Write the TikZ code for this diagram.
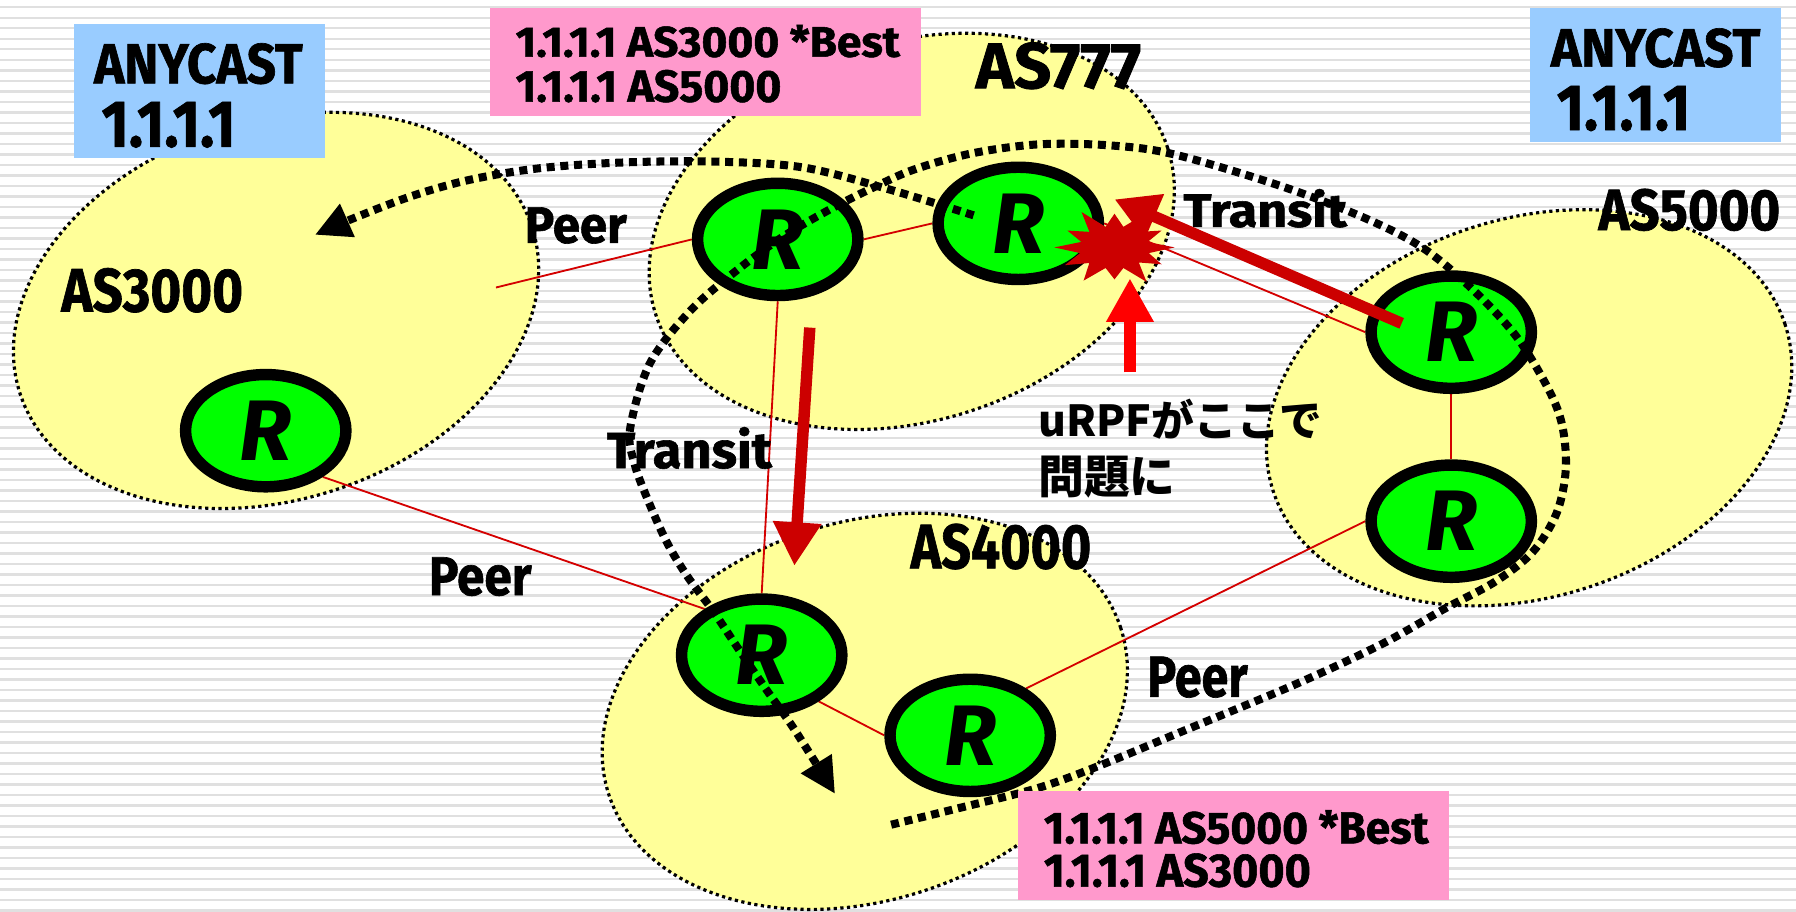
\documentclass[tikz,border=0pt]{standalone}
\usepackage{fontspec}
\usepackage{graphicx}
\setmainfont{Fira Sans}[BoldFeatures={FakeBold=1.2}]
\newfontfamily\jpfont{Noto Sans CJK JP}
\usetikzlibrary{arrows.meta,shapes.geometric}

\definecolor{bgline}{HTML}{E0E0E0}
\definecolor{asfill}{HTML}{FFFF99}
\definecolor{rtfill}{HTML}{00FF00}
\definecolor{boxblue}{HTML}{99CCFF}
\definecolor{boxpink}{HTML}{FF99CC}
\definecolor{darkred}{HTML}{CC0000}
\definecolor{linkred}{HTML}{D40000}
\definecolor{alertred}{HTML}{FF0000}

% text squeezed to a given ink width and cap height
\newcommand\fitlabel[3]{\resizebox{#1pt}{#2pt}{\bfseries #3}}

\tikzset{
  asarea/.style={ellipse, fill=asfill, draw=black, line width=2.8pt,
    dash pattern=on 2.8pt off 3pt, minimum width=470pt, minimum height=330pt,
    inner sep=0pt, rotate=18},
  router/.style={ellipse, draw=black, fill=rtfill, line width=10pt,
    minimum width=140pt, minimum height=98pt, inner sep=0pt,
    font=\fontsize{75}{75}\selectfont\bfseries\itshape},
  routerslot/.style={router, draw=none, fill=none},
  link/.style={draw=linkred, line width=1.6pt},
  route/.style={draw=black, line width=7pt, dash pattern=on 7pt off 5pt,
    -{Triangle[width=30pt,length=31pt]}},
  bigarrow/.style={draw=darkred, line width=10pt, -{Triangle[width=40pt,length=38pt]}},
  alertarrow/.style={draw=alertred, line width=10pt, -{Triangle[width=39pt,length=38pt]}},
  infobox/.style={rectangle, anchor=north west, inner sep=0pt, draw=none},
  lbl/.style={anchor=base west, inner sep=0pt},
}

\begin{document}
\begin{tikzpicture}[x=1pt,y=-1pt]
\useasboundingbox (0,0) rectangle (1568,796);
\fill[white] (0,0) rectangle (1568,796);

% striped background
\foreach \i in {0,...,86}
  \draw[bgline, line width=2pt] (0,{6.4+9.17*\i}) -- (1568,{6.4+9.17*\i});

% autonomous systems
\node[asarea] (as3000) at (241,271) {};
\node[asarea] (as777)  at (796,202) {};
\node[asarea] (as5000) at (1335,356) {};
\node[asarea] (as4000) at (755,621) {};

% router positions, so that the links can end on their borders
\foreach \n/\p in {r1/{(679,209)},r2/{(889,195)},r3/{(232,376)},r4/{(1267,290)},
                   r5/{(1267,455)},r6/{(665,572)},r7/{(847,642)}}
  \node[routerslot] (\n) at \p {};

% links between routers
\coordinate (p3000) at (433,251);
\draw[link] (p3000) -- (r1.west);
\draw[link] (r1.east) -- (r2.west);
\draw[link] (r1.south) -- (r6.north);
\draw[link] (r3.-39) -- (r6.141);
\draw[link] (r2.east) -- (r4.west);
\draw[link] (r4.south) -- (r5.north);
\draw[link] (r5.west) -- (r7.40);
\draw[link] (r6.-39) -- (r7.west);

% routers
\foreach \n in {r1,r2,r3,r4,r5,r6,r7}
  \node[router] (\n body) at (\n) {R};

% AS names and relation labels
\node[lbl] (t3000) at (53.4,272)   {\fitlabel{158.6}{38}{AS3000}};
\node[lbl] (t777)  at (851.7,77)   {\fitlabel{144.3}{40}{AS777}};
\node[lbl] (t5000) at (1395.4,200.8) {\fitlabel{158.6}{36}{AS5000}};
\node[lbl] (t4000) at (794.8,496.2) {\fitlabel{157.7}{39}{AS4000}};
\node[lbl] (peer1) at (458,212)    {\fitlabel{89}{31}{Peer}};
\node[lbl] (peer2) at (374.2,519.5) {\fitlabel{89.7}{33}{Peer}};
\node[lbl] (peer3) at (1001.4,608.3) {\fitlabel{87.7}{35}{Peer}};
\node[lbl] (tran1) at (1033,198)   {\fitlabel{142.7}{33}{Transit}};
\node[lbl] (tran2) at (529.7,408.6) {\fitlabel{144}{35.8}{Transit}};
\node[lbl] (urpf1) at (906.3,381)  {\resizebox{248pt}{!}{\jpfont\bfseries uRPFがここで}};
\node[lbl] (urpf2) at (906.3,431)  {\resizebox{120pt}{!}{\jpfont\bfseries 問題に}};

% preferred-path arrows
\coordinate (d0) at (707,286);
\coordinate (d1) at (693.5,494);
\draw[bigarrow] (d0) -- (d1);
\coordinate (e0) at (1223.7,282.3);
\coordinate (e1) at (973,174);
\draw[bigarrow] (e0) -- (e1);

% uRPF drop point: an uneven burst of spikes
\coordinate (burst) at (973,216);
\begin{scope}[shift={(burst)}, x=50pt, y=-31pt]
  \fill[darkred] (0:1.05) -- (15:0.62) -- (30:0.95) -- (45:0.6) -- (60:1.12)
    -- (75:0.6) -- (90:0.9) -- (105:0.6) -- (120:1.08) -- (135:0.62)
    -- (150:1.0) -- (165:0.62) -- (180:1.05) -- (195:0.6) -- (210:0.95)
    -- (225:0.62) -- (240:1.15) -- (255:0.6) -- (270:0.95) -- (285:0.6)
    -- (300:1.12) -- (315:0.62) -- (330:0.95) -- (345:0.6) -- cycle;
\end{scope}
\coordinate (u0) at (986.5,325);
\coordinate (u1) at (986.5,243);
\draw[alertarrow] (u0) -- (u1);

% announcement routes
\draw[route] plot[smooth, tension=0.55] coordinates {
  (850,188) (775,165) (700,146) (620,141) (540,142) (470,147) (410,157)
  (360,171) (310,190) (275,205)};
\draw[route] plot[smooth, tension=0.55] coordinates {
  (778,720) (831,707) (906,688) (961,668) (1031,639) (1132,597) (1207,562)
  (1262,531) (1305,508) (1338,482) (1359,448) (1367,410) (1364,372) (1352,340)
  (1324,294) (1286,253) (1243,217) (1193,191) (1120,163) (1026,135) (970,127)
  (907,126) (848,134) (798,148) (764,163) (726,182) (683,207) (642,237)
  (602,272) (567,318) (550,375) (554,405) (565,435) (582,473) (600,503)
  (623,534) (643,564) (669,602) (693,636) (729,693)};

% anycast and routing-table boxes
\node[infobox, fill=boxblue, minimum width=218.8pt, minimum height=117pt] (any1) at (64.5,20.4) {};
\node[lbl] (any1a) at (82,72.7)  {\fitlabel{182}{35}{ANYCAST}};
\node[lbl] (any1b) at (88.5,128) {\fitlabel{117}{39}{1.1.1.1}};

\node[infobox, fill=boxblue, minimum width=218.8pt, minimum height=117.3pt] (any2) at (1335.8,6.4) {};
\node[lbl] (any2a) at (1353.8,58.2) {\fitlabel{182.8}{33.5}{ANYCAST}};
\node[lbl] (any2b) at (1359,113.5)  {\fitlabel{116.5}{38.5}{1.1.1.1}};

\node[infobox, fill=boxpink, minimum width=376.5pt, minimum height=94.6pt] (rib777) at (427.6,6.4) {};
\node[lbl] (rib777a) at (450,49.5) {\fitlabel{335.4}{27.7}{1.1.1.1 AS3000 *Best}};
\node[lbl] (rib777b) at (450,88.8) {\fitlabel{232}{27.8}{1.1.1.1 AS5000}};

\node[infobox, fill=boxpink, minimum width=375.9pt, minimum height=95.5pt] (rib4000) at (888.7,690.3) {};
\node[lbl] (rib4000a) at (911.2,736.3) {\fitlabel{335.8}{29}{1.1.1.1 AS5000 *Best}};
\node[lbl] (rib4000b) at (911.2,774)   {\fitlabel{233}{29}{1.1.1.1 AS3000}};
\end{tikzpicture}
\end{document}
